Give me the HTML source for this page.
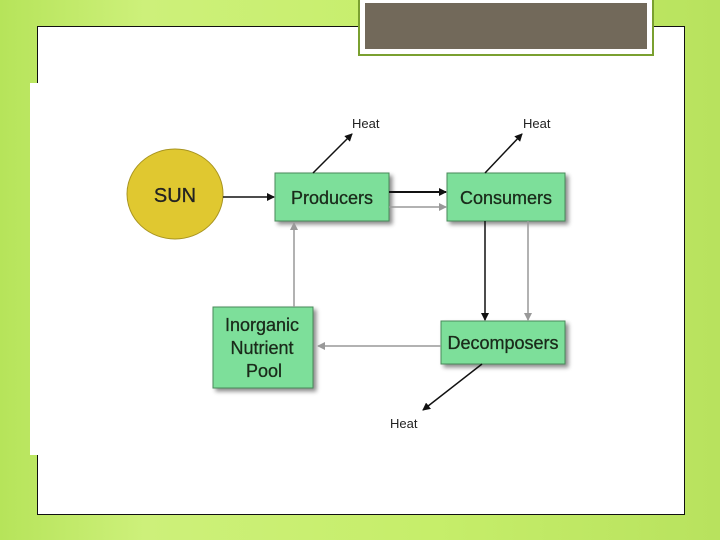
<!DOCTYPE html>
<html><head><style>
body{margin:0;width:720px;height:540px;overflow:hidden;background:linear-gradient(90deg,#b6e45a 0%,#cdf07a 20%,#c6ee6a 60%,#b8e25e 100%);font-family:"Liberation Sans",sans-serif;position:relative}
.panel{position:absolute;left:37px;top:26px;width:646px;height:487px;background:#fff;border:1px solid #111}
.title{position:absolute;left:360px;top:-2px;width:282px;height:46px;background:#72695a;border:5px solid #fff;outline:2px solid #7aa030}
.img{position:absolute;left:30px;top:83px;width:653px;height:372px;background:#fff}
</style></head><body>
<div class="panel"></div>
<div class="img"></div>
<div class="title"></div>
<svg width="720" height="540" style="position:absolute;left:0;top:0" font-family="Liberation Sans, sans-serif">
<defs>
<marker id="b" markerWidth="8" markerHeight="8" refX="7" refY="4" orient="auto" markerUnits="userSpaceOnUse"><path d="M0,0 L8,4 L0,8z" fill="#111"/></marker>
<marker id="g" markerWidth="8" markerHeight="8" refX="7" refY="4" orient="auto" markerUnits="userSpaceOnUse"><path d="M0,0 L8,4 L0,8z" fill="#999"/></marker>
<filter id="s"><feDropShadow dx="3" dy="3" stdDeviation="2" flood-color="#000" flood-opacity="0.45"/></filter>
</defs>
<ellipse cx="175" cy="194" rx="48" ry="45" fill="#e0c830" stroke="#a89420"/>
<text x="175" y="202" font-size="20" text-anchor="middle" fill="#222" stroke="#222" stroke-width="0.3">SUN</text>
<g fill="#7ddf9a" stroke="#4a8a5a" filter="url(#s)">
<rect x="275" y="173" width="114" height="48"/>
<rect x="447" y="173" width="118" height="48"/>
<rect x="441" y="321" width="124" height="43"/>
<rect x="213" y="307" width="100" height="81"/>
</g>
<g font-size="18" fill="#1a2a1a" text-anchor="middle" stroke="#1a2a1a" stroke-width="0.3">
<text x="332" y="204">Producers</text>
<text x="506" y="204">Consumers</text>
<text x="503" y="349">Decomposers</text>
<text x="262" y="331">Inorganic</text>
<text x="262" y="354">Nutrient</text>
<text x="264" y="377">Pool</text>
</g>
<g stroke-width="1.5" fill="none">
<line x1="223" y1="197" x2="274" y2="197" stroke="#111" marker-end="url(#b)"/>
<line x1="389" y1="192" x2="446" y2="192" stroke="#111" stroke-width="2" marker-end="url(#b)"/>
<line x1="389" y1="207" x2="446" y2="207" stroke="#999" marker-end="url(#g)"/>
<line x1="485" y1="221" x2="485" y2="320" stroke="#111" marker-end="url(#b)"/>
<line x1="528" y1="221" x2="528" y2="320" stroke="#999" marker-end="url(#g)"/>
<line x1="441" y1="346" x2="318" y2="346" stroke="#999" marker-end="url(#g)"/>
<line x1="294" y1="307" x2="294" y2="223" stroke="#999" marker-end="url(#g)"/>
<line x1="313" y1="173" x2="352" y2="134" stroke="#111" marker-end="url(#b)"/>
<line x1="485" y1="173" x2="522" y2="134" stroke="#111" marker-end="url(#b)"/>
<line x1="482" y1="364" x2="423" y2="410" stroke="#111" marker-end="url(#b)"/>
</g>
<g font-size="13" fill="#222">
<text x="352" y="128">Heat</text>
<text x="523" y="128">Heat</text>
<text x="390" y="428">Heat</text>
</g>
</svg>
</body></html>
